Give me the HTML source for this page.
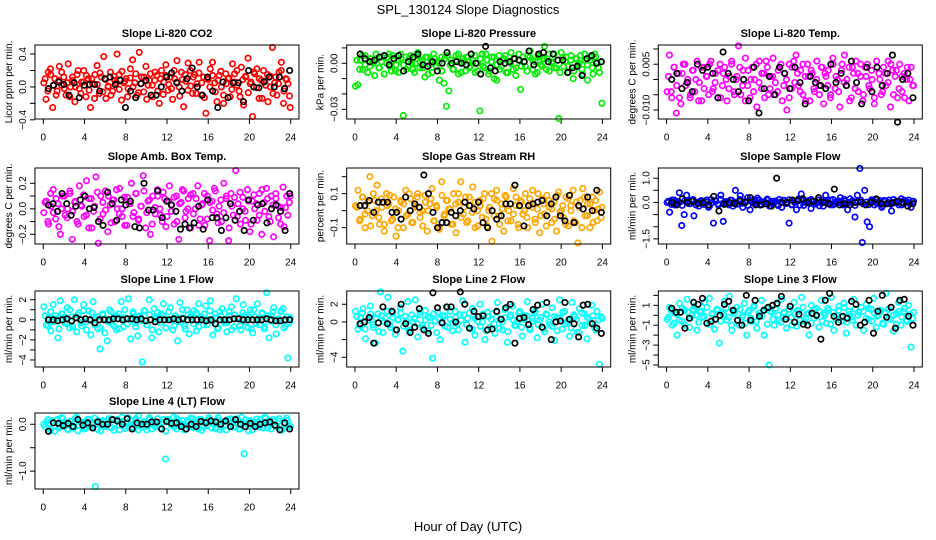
<!DOCTYPE html>
<html><head><meta charset="utf-8"><style>
html,body{margin:0;padding:0;background:#fff}
svg{display:block;font-family:"Liberation Sans",Arial,sans-serif}
</style></head><body>
<svg id="c" width="936" height="540" viewBox="0 0 936 540" xmlns="http://www.w3.org/2000/svg">
<text x="468" y="14" font-size="13" text-anchor="middle">SPL_130124  Slope Diagnostics</text>
<text x="468" y="531" font-size="13" text-anchor="middle">Hour of Day (UTC)</text>
</svg>
<script>
const xTicks = [0,4,8,12,16,20,24];
const titles = ["Slope Li-820 CO2","Slope Li-820 Pressure","Slope Li-820 Temp.","Slope Amb. Box Temp.","Slope Gas Stream RH","Slope Sample Flow","Slope Line 1 Flow","Slope Line 2 Flow","Slope Line 3 Flow","Slope Line 4 (LT) Flow"];
const yLabels = ["Licor ppm per min.","kPa per min.","degrees C per min.","degrees C per min.","percent per min.","ml/min per min.","ml/min per min.","ml/min per min.","ml/min per min.","ml/min per min."];
const colors = ["#ff0000","#00ee00","#ff00ff","#ff00ff","#ffa500","#0000ff","#00ffff","#00ffff","#00ffff","#00ffff"];
const yRanges = [[-0.39,0.51],[-0.0363,0.0119],[-0.01296,0.0113],[-0.276,0.32],[-0.196,0.251],[-1.71,1.42],[-4.7,2.87],[-5.1,3.5],[-5.2,2.44],[-1.38,0.24]];
const yTickVals = [[-0.4,-0.2,0,0.2,0.4],[-0.03,-0.02,-0.01,0,0.01],[-0.01,-0.005,0,0.005,0.01],[-0.2,-0.1,0,0.1,0.2],[-0.1,0,0.1,0.2],[-1.5,-1,-0.5,0,0.5,1],[-4,-3,-2,-1,0,1,2],[-4,-2,0,2],[-5,-4,-3,-2,-1,0,1,2],[-1,-0.5,0]];
const yTickText = [["-0.4","","0.0","","0.4"],["-0.03","","","0.00",""],["-0.010","","","0.005",""],["-0.2","","0.0","","0.2"],["-0.1","","0.1",""],["-1.5","","","0.0","","1.0"],["-4","","-2","","0","","2"],["-4","","0","2"],["-5","","-3","","-1","","1",""],["-1.0","","0.0"]];

const colored0 = [0.05,-0.15,0.18,0.22,-0.25,0.1,-0.05,0.25,0.02,0.12,-0.1,0.28,0.0,0.08,-0.18,0.15,-0.02,0.06,0.2,-0.12,0.1,-0.25,0.04,0.15,0.26,-0.08,0.12,0.37,-0.14,0.0,0.18,-0.05,0.08,0.4,0.15,-0.16,0.05,0.1,-0.02,0.22,0.33,0.05,-0.1,0.42,0.12,-0.06,0.25,0.02,0.16,-0.12,0.08,0.14,-0.2,0.2,0.06,0.27,-0.04,0.12,-0.15,0.1,0.32,0.0,0.18,-0.24,0.07,0.29,0.2,-0.08,0.15,0.04,0.3,-0.1,0.12,-0.32,0.09,0.22,0.3,0.05,-0.18,0.14,0.0,-0.2,0.16,0.1,-0.12,0.28,0.06,0.2,-0.05,0.24,-0.22,0.12,0.35,0.04,-0.36,0.16,0.22,-0.14,0.08,0.2,0.02,-0.18,0.13,0.48,0.05,-0.1,0.18,0.3,-0.2,0.1,0.04,-0.25];
const band0 = [0.1,-0.05,0.15,0.02,-0.1,0.08,0.18,-0.02,0.05,-0.12,0.12,0.0,0.2,-0.08,0.06,0.14,-0.04,0.1,-0.14,0.03,0.17,-0.06,0.09,0.01,-0.1,0.13,0.05,-0.03,0.19,0.07,-0.12,0.11,0.0,0.16,-0.07,0.04,0.12,-0.15,0.08,0.02,0.18,-0.05,0.1,-0.09,0.14,0.03,-0.02,0.2,0.06,-0.11,0.09,0.15,-0.04,0.01,0.12,-0.08,0.17,0.05,-0.13,0.1,0.0,0.14,-0.06,0.08,0.19,-0.1,0.04,0.11,-0.03,0.16,0.02,-0.12,0.09,0.13,-0.07,0.06,0.18,-0.01,0.1,-0.14,0.07,0.15,0.0,-0.08,0.12,0.04,0.2,-0.05,0.09,-0.11];
const black0 = [-0.02,0.02,0.06,0.03,-0.1,0.05,-0.13,0.02,0.03,0.03,-0.05,0.1,0.12,0.03,0.08,-0.25,-0.05,-0.13,0.04,0.08,-0.1,-0.1,0.0,0.12,0.17,0.05,-0.05,0.1,0.23,0.0,-0.1,0.12,-0.05,-0.25,0.06,-0.13,0.05,0.05,-0.18,0.2,0.0,-0.01,0.06,0.12,0.0,0.12,-0.02,0.2];
const colored1 = [-0.015,-0.014,0.002,-0.004,0.005,-0.006,-0.002,0.001,-0.008,0.003,-0.003,0.004,-0.007,0.0,0.006,-0.005,0.002,-0.001,-0.006,0.003,-0.034,0.004,-0.002,0.005,-0.004,0.0,0.007,-0.003,0.002,-0.009,0.004,-0.001,-0.006,0.003,0.001,-0.011,0.004,-0.013,-0.028,-0.018,0.002,-0.004,0.005,-0.007,0.001,0.003,-0.005,0.004,-0.002,0.002,-0.006,0.0,-0.031,0.006,-0.003,0.002,-0.005,0.004,-0.01,-0.011,0.005,-0.002,0.003,-0.006,0.001,0.007,-0.004,-0.008,0.002,-0.017,0.004,-0.002,0.005,0.008,-0.004,0.001,-0.006,0.004,-0.002,0.011,0.003,-0.005,0.001,0.006,-0.003,-0.036,0.007,-0.002,0.004,-0.006,0.002,-0.01,0.003,-0.001,0.005,-0.007,0.002,-0.011,0.004,-0.003,0.006,0.001,-0.006,-0.026];
const band1 = [0.002,-0.004,0.005,-0.001,-0.006,0.003,0.0,0.006,-0.003,0.001,-0.007,0.004,-0.002,0.005,-0.005,0.002,0.006,-0.001,-0.004,0.003,0.0,-0.006,0.005,0.001,-0.003,0.004,-0.007,0.002,0.006,-0.002,0.0,-0.005,0.003,0.005,-0.001,-0.004,0.002,0.006,-0.006,0.001,0.004,-0.003,0.0,0.005,-0.005,0.003,-0.002,0.006,-0.007,0.001,0.004,-0.001,-0.004,0.002,0.005,-0.006,0.0,0.003,-0.003,0.006,-0.002,0.001,-0.005,0.004,0.002,-0.007,0.005,-0.001,0.003,-0.004,0.006,0.0,-0.003,0.002,-0.006,0.004,0.001,-0.002,0.005,-0.005,0.003,0.0,-0.004,0.006,-0.001,0.002,-0.007,0.004,-0.003,0.001];
const black1 = [0.006,0.003,0.001,0.002,0.004,0.005,-0.001,0.003,0.005,-0.005,0.001,0.004,0.006,-0.001,-0.002,0.001,-0.005,0.0,0.007,0.0,0.001,0.0,-0.001,0.006,0.0,-0.007,0.011,-0.003,-0.005,0.001,0.0,0.001,0.003,0.002,0.001,0.008,-0.001,0.006,0.007,0.001,0.006,0.002,0.002,-0.006,-0.003,-0.002,-0.008,0.003,0.005,0.0,0.001];
const colored2 = [-0.004,0.008,-0.006,0.004,-0.011,0.002,-0.008,0.005,-0.002,0.0,-0.006,0.003,-0.004,0.006,-0.001,-0.007,0.004,0.001,-0.005,0.006,-0.003,0.002,-0.006,0.005,-0.002,0.004,-0.007,0.001,0.006,-0.004,0.0,0.011,-0.005,0.003,0.007,-0.002,-0.006,0.004,0.0,-0.009,0.006,-0.003,0.002,0.006,-0.005,0.001,0.007,-0.001,-0.004,0.004,-0.007,0.002,-0.01,0.005,-0.003,0.006,0.008,-0.002,0.003,-0.005,0.001,0.005,-0.007,0.002,-0.004,0.006,-0.002,0.004,-0.008,0.001,0.003,-0.005,0.007,-0.003,0.0,-0.009,0.005,0.008,-0.002,0.004,-0.006,0.002,0.006,-0.004,0.001,-0.007,0.004,0.005,-0.003,0.0,-0.008,0.006,0.002,-0.005,0.004,-0.002,0.006,-0.009,0.003,0.001,-0.006,0.005,-0.004,0.002,0.0,-0.007,0.004,-0.002];
const band2 = [0.001,-0.004,0.004,-0.002,-0.006,0.002,0.005,-0.001,-0.005,0.003,0.0,-0.007,0.004,-0.003,0.001,0.005,-0.004,-0.001,0.003,-0.006,0.002,0.0,-0.003,0.005,-0.005,0.001,0.004,-0.002,-0.007,0.003,0.0,-0.004,0.005,-0.001,0.002,-0.006,0.004,-0.003,0.001,-0.005,0.003,0.005,-0.002,0.0,-0.006,0.004,-0.001,0.002,-0.004,0.005,-0.007,0.001,0.003,-0.003,0.0,-0.005,0.004,0.002,-0.002,-0.006,0.005,0.001,-0.004,0.003,-0.001,0.0,-0.007,0.004,-0.003,0.002,0.005,-0.005,0.001,-0.002,0.003,-0.006,0.004,0.0,-0.004,0.002,-0.001,0.005,-0.005,0.003,-0.003,0.001,-0.006,0.004,0.0,-0.002];
const black2 = [0.0,0.002,-0.003,-0.001,-0.004,0.005,0.003,0.004,0.002,-0.006,0.009,0.002,0.0,-0.004,0.0,-0.007,0.004,-0.011,-0.003,0.001,-0.005,0.004,0.002,-0.003,0.004,-0.001,-0.008,0.001,-0.001,-0.002,-0.003,0.005,-0.001,0.002,-0.002,0.006,-0.001,-0.008,0.004,-0.004,0.004,-0.002,0.002,0.008,-0.014,0.0,0.002,-0.006];
const colored3 = [-0.03,0.06,-0.12,0.02,0.15,-0.08,0.04,-0.2,0.1,-0.05,0.0,0.12,-0.24,0.05,-0.1,0.18,0.02,-0.06,0.22,-0.15,0.08,-0.02,0.25,-0.27,0.1,-0.04,0.14,-0.18,0.03,0.07,-0.1,0.0,0.16,-0.06,0.09,-0.13,0.04,0.2,-0.03,0.12,-0.08,0.02,0.26,-0.15,0.06,-0.2,0.1,-0.04,0.15,0.0,-0.1,0.08,-0.06,0.18,0.03,-0.12,0.1,-0.24,0.05,0.14,-0.02,0.08,-0.15,0.12,0.0,0.18,-0.08,0.04,-0.13,0.1,-0.25,0.06,0.16,-0.04,0.02,-0.1,0.2,0.08,-0.25,0.12,-0.05,0.3,0.04,-0.12,0.09,-0.02,0.15,-0.18,0.06,0.0,-0.09,0.12,-0.2,0.05,0.16,-0.06,0.1,-0.22,0.08,0.02,-0.12,0.17,0.01,-0.05,0.1];
const band3 = [0.05,-0.1,0.12,-0.03,0.08,-0.14,0.0,0.1,-0.07,0.14,-0.02,0.06,-0.12,0.03,0.11,-0.05,0.08,-0.15,0.02,0.13,-0.08,0.05,-0.01,0.1,-0.11,0.07,0.15,-0.04,0.0,-0.13,0.09,0.04,-0.06,0.12,-0.09,0.02,0.14,-0.03,0.07,-0.12,0.01,0.1,-0.05,0.13,-0.14,0.06,-0.02,0.09,-0.1,0.04,0.15,-0.07,0.0,0.11,-0.04,0.08,-0.13,0.03,0.12,-0.08,0.05,-0.01,0.14,-0.11,0.07,-0.03,0.1,-0.15,0.02,0.09,-0.06,0.13,0.0,-0.09,0.06,-0.12,0.11,0.04,-0.05,0.15,-0.02,0.08,-0.1,0.03,0.12,-0.07,0.01,-0.14,0.1,0.05];
const black3 = [0.03,0.04,-0.02,0.12,0.04,-0.05,0.02,0.07,0.1,0.0,0.01,-0.1,-0.13,0.13,0.04,-0.09,0.07,0.03,0.06,-0.14,-0.15,0.2,-0.01,-0.01,0.14,-0.07,0.06,0.03,-0.02,-0.16,-0.12,-0.15,-0.11,0.02,-0.16,0.07,-0.07,-0.07,-0.17,-0.07,0.04,-0.09,-0.02,-0.17,0.07,-0.09,0.03,0.04,-0.11,0.0,0.03,-0.02,-0.17,0.12];
const colored4 = [0.03,0.12,-0.05,0.08,-0.1,0.0,0.2,-0.03,0.06,0.15,-0.08,0.02,-0.12,0.1,0.04,-0.06,0.08,-0.15,0.0,0.05,-0.1,0.12,-0.02,0.07,-0.07,0.03,0.1,-0.04,0.0,0.09,-0.12,0.04,0.13,-0.06,0.02,-0.11,0.17,-0.03,0.06,0.01,-0.08,0.1,-0.13,0.05,0.17,-0.02,0.08,-0.06,0.03,0.14,-0.1,0.0,0.06,-0.04,0.1,-0.09,0.02,-0.18,0.07,0.12,-0.03,0.04,-0.12,0.08,0.0,-0.06,0.13,0.03,-0.08,0.06,-0.02,0.1,-0.1,0.04,0.12,-0.05,0.01,-0.13,0.07,-0.02,0.09,0.02,-0.07,0.05,-0.12,0.11,0.0,-0.04,0.08,-0.09,0.03,0.12,-0.07,-0.19,0.06,0.13,-0.03,0.04,-0.1,0.08,0.0,-0.06,0.11,0.02];
const band4 = [0.02,-0.06,0.08,-0.02,0.05,-0.09,0.1,0.0,-0.04,0.07,-0.08,0.03,0.09,-0.05,0.01,-0.1,0.06,0.04,-0.03,0.1,-0.07,0.02,0.08,-0.01,-0.09,0.05,0.0,0.07,-0.06,0.03,-0.1,0.09,-0.02,0.06,0.01,-0.08,0.04,0.1,-0.04,0.02,-0.07,0.08,-0.01,0.05,-0.09,0.03,0.07,-0.05,0.0,0.1,-0.03,0.06,-0.08,0.01,0.09,-0.06,0.04,-0.02,0.08,-0.1,0.05,0.0,-0.04,0.07,0.02,-0.07,0.1,-0.03,0.04,-0.09,0.06,0.01,-0.05,0.09,-0.01,0.03,-0.08,0.07,0.0,-0.06,0.05,0.02,-0.1,0.08,-0.03,0.04,-0.07,0.06,0.01,-0.04];
const black4 = [0.03,0.03,0.06,-0.01,0.05,0.05,0.05,-0.01,-0.01,-0.05,0.08,0.0,0.04,0.02,0.21,0.1,-0.01,-0.1,-0.07,-0.07,-0.01,-0.03,0.0,0.05,0.03,0.01,0.05,-0.07,-0.1,0.0,-0.05,-0.03,0.04,0.04,0.15,0.03,-0.09,0.03,0.04,0.05,0.06,-0.03,0.04,0.08,-0.03,-0.06,0.09,-0.07,0.03,0.01,0.08,0.0,0.12,-0.01];
const colored5 = [0.0,-0.4,0.1,-0.1,0.05,0.4,-0.95,-0.5,0.3,-0.05,0.1,-0.55,0.0,-0.15,0.08,-0.08,0.02,-0.2,0.12,-0.85,0.05,-0.1,0.3,-0.78,0.0,-0.05,0.1,-0.15,0.5,-0.05,0.28,-0.2,0.05,0.2,-0.3,0.0,0.1,0.18,-0.1,0.03,-0.05,0.1,-0.15,0.05,0.0,-0.08,0.12,-0.2,0.08,0.02,-0.85,-0.1,0.05,-0.3,0.15,0.35,-0.12,0.0,0.08,-0.25,0.05,-0.05,0.1,0.0,-0.15,0.3,0.05,-0.1,0.12,-0.05,0.0,0.2,-0.1,0.05,-0.3,0.15,0.0,-0.6,0.3,1.4,-1.65,0.5,-0.8,-1.0,0.05,-0.1,0.12,0.0,-0.2,0.08,-0.05,0.1,-0.35,0.0,0.05,-0.1,0.15,-0.05,0.02,0.1,-0.2,0.05];
const band5 = [0.05,-0.08,0.1,-0.02,0.0,-0.12,0.08,0.03,-0.05,0.12,-0.1,0.02,0.06,-0.04,0.1,-0.14,0.0,0.07,-0.06,0.13,-0.02,0.04,-0.1,0.09,0.01,-0.07,0.12,-0.03,0.05,-0.12,0.08,0.0,-0.05,0.1,-0.09,0.03,0.14,-0.01,-0.06,0.06,-0.13,0.02,0.09,-0.04,0.11,-0.08,0.0,0.05,-0.11,0.07,0.03,-0.02,0.12,-0.07,0.01,-0.14,0.08,0.04,-0.05,0.1,-0.1,0.02,0.06,-0.03,0.13,-0.08,0.0,0.07,-0.12,0.04,0.1,-0.06,0.01,-0.09,0.11,0.03,-0.04,0.08,-0.13,0.05,0.0,-0.07,0.12,-0.02,0.06,-0.1,0.09,0.02,-0.05,0.04];
const black5 = [0.0,-0.1,0.15,0.0,0.05,-0.05,0.0,-0.1,0.25,-0.35,-0.08,0.0,-0.05,0.05,0.0,0.2,-0.1,-0.1,-0.05,-0.15,1.0,0.0,0.0,0.1,0.1,0.15,0.0,0.05,0.2,0.0,-0.05,0.55,-0.1,-0.05,-0.1,0.0,0.02,-0.1,0.0,0.15,-0.05,-0.05,-0.02,0.05,0.0,-0.15,-0.05];
const colored6 = [1.3,-0.5,0.2,-1.1,1.5,0.4,-1.8,1.9,0.6,-0.3,1.2,-0.8,0.3,2.0,-1.2,0.7,-0.6,1.5,-0.2,0.9,-1.5,1.8,0.1,-0.9,-2.9,0.5,-1.3,-2.1,1.0,-0.4,0.3,-1.0,0.6,1.8,-0.7,0.2,2.1,-1.9,0.8,-0.3,-1.6,0.4,-4.2,0.9,-0.5,2.0,-1.8,1.1,0.3,-1.2,0.6,1.6,-0.8,0.0,1.2,-1.0,0.4,-2.1,1.7,0.2,-0.6,1.0,-1.4,0.5,0.9,-1.1,1.6,0.3,-0.5,1.4,0.0,1.9,-1.5,0.6,-0.9,0.8,1.1,-0.3,-1.2,0.4,1.3,-0.7,2.1,0.2,-1.0,1.5,0.5,-0.8,1.0,-1.3,0.3,1.6,-0.5,0.7,-0.9,2.7,-1.8,0.4,1.2,-1.4,0.1,0.8,1.1,-0.6,-3.8,0.2];
const band6 = [0.4,-0.6,0.8,-0.2,0.1,-0.9,0.6,0.3,-0.4,1.0,-0.7,0.2,0.5,-0.3,0.9,-1.0,0.0,0.7,-0.5,0.3,-0.8,0.6,0.1,-0.2,0.8,-0.6,0.4,-0.9,0.2,1.0,-0.4,0.0,0.6,-0.7,0.3,-0.1,0.9,-0.5,0.5,-1.0,0.1,0.7,-0.3,0.4,-0.8,0.8,0.0,-0.6,0.2,-0.2,1.0,-0.9,0.5,0.3,-0.4,0.7,-0.7,0.1,0.6,-0.5,0.9,-0.1,0.2,-0.8,0.4,0.0,-0.3,0.8,-1.0,0.5,0.2,-0.6,0.7,-0.2,0.3,-0.9,1.0,-0.4,0.1,0.6,-0.7,0.4,-0.1,0.8,-0.5,0.0,0.9,-0.8,0.3,-0.3];
const black6 = [0,0,-0.1,0,0.1,-0.1,0.2,0,0.1,0,-0.3,0,0,0,0.1,0.1,0,0.1,0.1,0,0.1,-0.1,0,-0.2,0,0,0,0.1,0,0.1,0,0,0,0,-0.1,0,-0.4,0,0,0,0.1,0.1,0,0,0,0,0,0.1,0,-0.1,-0.1,0,0];
const colored7 = [1.2,-0.8,0.5,1.5,-1.9,0.2,1.8,-0.3,-2.4,0.9,3.4,-1.2,0.4,2.8,-0.6,1.0,-1.4,0.2,1.6,-3.3,0.6,2.3,-0.9,0.0,2.5,-1.7,0.8,-0.4,1.3,-1.0,0.5,-4.1,0.1,1.1,-2.0,0.7,-0.5,1.6,0.3,-1.0,1.2,-0.2,0.8,2.4,-2.3,0.4,-0.8,1.5,-1.5,0.6,2.0,0.0,-2.0,1.1,-0.6,0.9,-1.3,2.2,0.3,-0.9,1.4,-2.3,0.6,1.8,-0.4,0.0,1.2,-1.6,0.7,2.3,-0.7,0.4,1.0,-1.8,0.2,2.0,-1.1,0.8,-0.3,1.6,-2.1,0.5,2.5,-0.8,1.2,0.0,-1.6,2.2,0.6,-1.2,1.5,-0.4,0.9,-1.9,0.3,1.9,-0.6,1.2,-4.8,0.4];
const band7 = [0.6,-0.4,1.0,-0.8,0.2,0.9,-0.6,0.4,-1.1,0.7,0.0,1.2,-0.3,0.5,-0.9,0.3,1.0,-0.5,0.1,-1.0,0.8,0.4,-0.2,1.1,-0.7,0.2,0.6,-0.4,0.9,-1.2,0.3,0.0,0.7,-0.6,1.2,-0.1,0.5,-0.9,0.2,0.8,-0.3,1.0,-0.8,0.4,0.1,-0.5,0.9,-1.0,0.6,0.3,-0.2,1.1,-0.7,0.0,0.5,-1.1,0.8,0.2,-0.4,1.0,-0.6,0.3,0.7,-0.9,0.1,1.2,-0.3,0.5,-0.8,0.9,0.0,-0.5,0.6,-1.0,0.4,1.1,-0.2,0.2,-0.7,0.8,0.3,-1.2,1.0,-0.4,0.5,-0.1,0.7,-0.9,0.2,0.6];
const black7 = [-0.2,0.0,0.5,-2.4,-0.1,1.7,-0.2,1.2,-0.9,2.0,-0.2,-1.2,-0.6,1.5,-0.9,-1.3,3.3,1.6,-0.1,1.7,1.7,0.0,3.4,2.0,-0.7,1.2,0.6,0.7,-0.9,-0.8,1.2,0.3,1.6,2.0,-2.4,0.4,0.5,-0.3,1.4,1.9,-0.6,2.2,-2.0,0.0,0.1,2.2,0.3,-0.2,-1.7,1.9,2.0,-0.2,-0.7,-1.3];
const colored8 = [-0.4,0.8,-1.0,0.2,-2.0,1.2,-0.6,0.5,1.6,-1.2,0.0,0.9,-1.5,0.4,-0.2,1.3,-0.8,1.7,0.1,-1.4,0.6,-2.8,0.3,1.4,-0.5,1.9,-1.5,0.2,0.8,-1.0,-0.2,1.2,-2.0,0.5,-0.6,1.0,-1.3,0.0,1.5,-2.0,0.7,-5.0,0.3,-1.0,1.1,-0.5,1.6,0.2,-1.3,0.6,-0.2,1.3,-1.1,0.4,1.8,-0.6,0.1,-2.0,1.0,-0.3,0.7,-1.2,1.5,0.2,-0.8,0.5,1.8,-1.5,0.0,0.9,-0.6,1.2,-1.8,0.4,-0.2,1.6,-1.0,0.3,0.8,-1.5,1.1,-0.4,0.6,1.7,-1.2,0.0,0.5,-0.9,2.2,-0.3,0.8,-1.6,0.2,1.3,-1.0,0.4,-0.5,1.0,-3.2,0.3];
const band8 = [-0.2,0.5,-0.8,0.1,-0.5,0.7,-1.0,0.3,-0.3,0.6,0.0,-0.7,0.4,-0.1,0.8,-0.9,0.2,-0.4,0.5,-0.6,0.1,0.7,-0.2,-1.0,0.4,-0.5,0.6,0.0,-0.8,0.3,-0.3,0.8,-0.6,0.2,-0.1,0.5,-0.9,0.4,-0.4,0.7,0.0,-0.7,0.3,-0.2,0.6,-1.0,0.1,0.5,-0.5,0.8,-0.3,0.2,-0.8,0.6,-0.1,0.4,-0.6,0.0,0.7,-0.9,0.3,-0.4,0.5,-0.2,0.8,-0.7,0.1,-0.5,0.6,0.0,-1.0,0.4,-0.3,0.7,-0.6,0.2,-0.1,0.5,-0.8,0.3,0.6,-0.4,0.0,-0.9,0.4,-0.2,0.7,-0.6,0.1,-0.3];
const black8 = [0.7,0.3,0.3,-1.3,-0.3,1.3,1.1,1.7,-0.8,-0.6,-0.4,0.0,1.1,1.4,0.5,-0.5,-1.0,2.0,-0.5,1.5,-0.1,0.5,0.8,1.0,1.2,1.9,-0.4,0.9,-0.7,0.1,-0.9,-1.0,0.2,0.0,-2.4,1.5,2.2,-0.1,-0.7,-0.1,-0.3,1.4,1.1,-1.0,-0.7,1.5,-1.8,0.4,2.0,-0.2,0.8,-1.3,1.5,1.6,-0.1,-1.0];
const colored9 = [0.0,0.05,-0.1,0.08,-0.15,0.1,-0.05,0.12,0.02,-0.12,0.06,-0.08,0.15,-0.02,0.04,-0.1,0.1,-0.06,0.0,-1.33,0.08,-0.14,0.05,-0.03,0.12,-0.08,0.02,0.1,-0.12,0.06,-0.04,0.14,0.0,-0.1,0.08,0.18,-0.06,0.03,-0.12,0.1,0.0,-0.05,0.12,-0.08,0.04,-0.74,0.1,-0.02,0.15,-0.1,0.06,0.0,-0.12,0.08,-0.04,0.12,0.02,-0.1,0.1,-0.06,0.04,0.14,-0.08,0.0,0.09,-0.12,0.05,-0.02,0.1,0.12,-0.06,0.03,-0.1,0.15,-0.63,0.0,0.08,-0.12,0.05,-0.03,0.1,-0.08,0.13,0.02,-0.1,0.06,-0.04,0.12,-0.12,0.0,0.08,-0.05];
const band9 = [-0.05,0.1,-0.12,0.03,0.08,-0.08,0.14,0.0,-0.1,0.06,-0.03,0.12,-0.14,0.05,0.02,-0.07,0.1,-0.01,0.13,-0.11,0.04,0.08,-0.05,0.0,0.11,-0.13,0.07,-0.02,0.15,-0.09,0.03,0.09,-0.06,0.12,-0.12,0.01,0.06,-0.04,0.14,-0.1,0.05,0.0,-0.08,0.1,-0.15,0.07,0.03,-0.05,0.12,-0.02,0.08,-0.11,0.04,0.13,-0.07,0.0,0.1,-0.13,0.06,-0.03,0.11,0.02,-0.09,0.14,-0.06,0.05,-0.12,0.08,0.01,-0.04,0.12,-0.1,0.03,0.09,-0.14,0.06,-0.01,0.11,-0.07,0.04,0.15,-0.08,0.0,0.1,-0.05,0.07,-0.12,0.02,0.13,-0.03];
const black9 = [-0.15,0.03,0.02,-0.03,0.02,-0.05,0.1,-0.02,0.03,-0.08,0.05,0.0,0.0,0.1,0.07,0.0,0.12,-0.1,0.03,0.0,0.0,0.05,0.05,-0.1,0.06,0.02,0.03,-0.05,-0.1,0.0,-0.05,0.06,0.03,0.07,0.05,0.0,0.07,-0.05,0.1,0.0,-0.05,0.02,-0.05,0.0,0.03,0.05,-0.02,-0.12,0.03,-0.1];

const coloredSeries = [colored0,colored1,colored2,colored3,colored4,colored5,colored6,colored7,colored8,colored9];
const bandSeries = [band0,band1,band2,band3,band4,band5,band6,band7,band8,band9];
const blackSeries = [black0,black1,black2,black3,black4,black5,black6,black7,black8,black9];

const NS = "http://www.w3.org/2000/svg";
const svg = document.getElementById('c');
const colLefts = [35, 346.7, 658.3];
const rowTops = [45, 168, 291, 413];
const rowBots = [119, 244, 367, 489];
const W = 264;
function mk(tag, attrs, parent){const e=document.createElementNS(NS,tag);for(const k in attrs)e.setAttribute(k,attrs[k]);(parent||svg).appendChild(e);return e;}

for (let p = 0; p < 10; p++) {
  const col = p % 3, row = Math.floor(p / 3);
  const L = colLefts[col], T = rowTops[row], B = rowBots[row];
  const g = mk('g', {});
  
  
  const xs = h => L + 8.3 + h * (247.4 / 24);
  const [y0, y1] = yRanges[p];
  const ys = v => B - (v - y0) / (y1 - y0) * (B - T);
  const t = mk('text', {x: L + W/2, y: T - 8, 'font-size': 11, 'font-weight': 'bold', 'text-anchor': 'middle'}, g);
  t.textContent = titles[p];
  
  
  xTicks.forEach(v => {
    const x = xs(v);
    const tk = mk('line', {x1: x, x2: x, y1: B, y2: B + 5, stroke: '#000', 'stroke-width': 1}, g);
    
    
    const lb = mk('text', {x: x, y: B + 21.5, 'font-size': 10, 'text-anchor': 'middle'}, g);
    lb.textContent = v;
    
    
  });
  yTickVals[p].forEach((v, i) => {
    const y = ys(v);
    const tk = mk('line', {x1: L - 5, x2: L, y1: y, y2: y, stroke: '#000', 'stroke-width': 1}, g);
    
    
    const s = yTickText[p][i];
    if (s) {
      const lb = mk('text', {x: 0, y: 0, 'font-size': 10, 'text-anchor': 'middle', transform: `translate(${L - 9},${y}) rotate(-90)`}, g);
      lb.textContent = s.replace('-', '\u2212');
      
      
    }
  });
  const yl = mk('text', {x: 0, y: 0, 'font-size': 10, 'text-anchor': 'middle', transform: `translate(${L - 23},${(T+B)/2}) rotate(-90)`}, g);
  yl.textContent = yLabels[p];
  
  
  const cs = coloredSeries[p];
  cs.forEach((v, i) => {
    const h = 0.05 + i * (23.9 / (cs.length - 1));
    const c = mk('circle', {cx: xs(h), cy: ys(v), r: 2.7, fill: 'none', stroke: colors[p], 'stroke-width': 1.7}, g);
    
    
  });
  const bd = bandSeries[p];
  bd.forEach((v, i) => {
    const h = 0.18 + i * (23.7 / (bd.length - 1));
    const c = mk('circle', {cx: xs(h), cy: ys(v), r: 2.7, fill: 'none', stroke: colors[p], 'stroke-width': 1.7}, g);
    
    
  });
  const bs = blackSeries[p];
  bs.forEach((v, i) => {
    const h = 0.5 + i * (23.4 / (bs.length - 1));
    const c = mk('circle', {cx: xs(h), cy: ys(v), r: 2.7, fill: 'none', stroke: '#000', 'stroke-width': 1.7}, g);
    
    
  });
  const box = mk('rect', {x: L, y: T, width: W, height: B - T, fill: 'none', stroke: '#000', 'stroke-width': 1}, g);
  
  
}
</script>
</body></html>
